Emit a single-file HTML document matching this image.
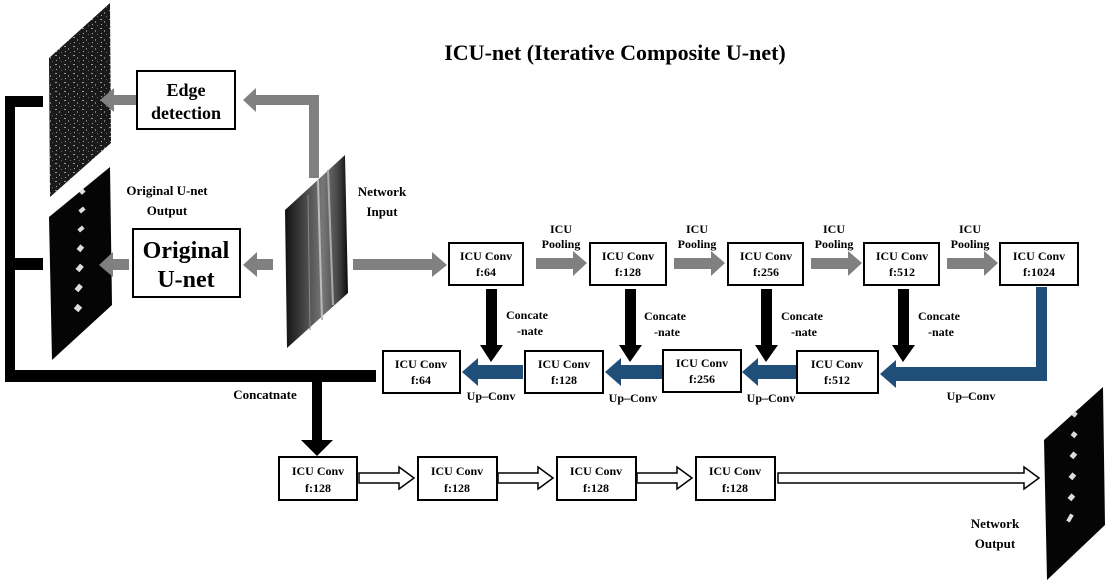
<!DOCTYPE html>
<html><head><meta charset="utf-8"><style>
html,body{margin:0;padding:0;background:#fff;}
svg{display:block;}
text{font-family:"Liberation Serif",serif;font-weight:bold;fill:#000;}
</style></head><body>
<svg width="1113" height="584" viewBox="0 0 1113 584" xmlns="http://www.w3.org/2000/svg">
<defs>
<linearGradient id="mri" x1="0" y1="0" x2="1" y2="0">
<stop offset="0" stop-color="#111"/><stop offset="0.4" stop-color="#555"/><stop offset="0.6" stop-color="#777"/><stop offset="0.85" stop-color="#444"/><stop offset="1" stop-color="#0a0a0a"/></linearGradient>
<pattern id="noise" width="9" height="9" patternUnits="userSpaceOnUse"><rect width="9" height="9" fill="#1a1a1a"/><rect x="1" y="1" width="2" height="1" fill="#999"/><rect x="5" y="3" width="1" height="2" fill="#777"/><rect x="2" y="6" width="1" height="1" fill="#aaa"/><rect x="7" y="7" width="1" height="1" fill="#666"/></pattern>
</defs>
<text x="615" y="60" font-size="22" text-anchor="middle">ICU-net (Iterative Composite U-net)</text>

<polygon points="49,58 110,3 111,143 50,197" fill="url(#noise)"/>
<polygon points="49,217 110,167 112,305 52,360" fill="#050505"/>
<g fill="#ddd">
<rect x="80" y="190" width="5" height="4" transform="rotate(-40 82 192)"/>
<rect x="79" y="208" width="6" height="4" transform="rotate(-40 82 210)"/>
<rect x="78" y="227" width="6" height="4" transform="rotate(-40 81 229)"/>
<rect x="77" y="246" width="6" height="5" transform="rotate(-50 80 248)"/>
<rect x="76" y="266" width="7" height="5" transform="rotate(-50 79 268)"/>
<rect x="75" y="286" width="7" height="5" transform="rotate(-50 78 288)"/>
<rect x="75" y="305" width="6" height="6" transform="rotate(-50 78 308)"/>
</g>
<polygon points="285,210 345,155 348,293 287,348" fill="url(#mri)"/>
<line x1="318" y1="180" x2="322" y2="320" stroke="#bbb" stroke-width="2"/>
<line x1="328" y1="170" x2="333" y2="305" stroke="#aaa" stroke-width="2"/>
<line x1="308" y1="195" x2="310" y2="330" stroke="#888" stroke-width="1"/>
<polygon points="1044,440 1103,387 1105,525 1047,580" fill="#050505"/>
<g fill="#ddd">
<rect x="1073" y="412" width="4" height="5" transform="rotate(40 1075 414)"/>
<rect x="1072" y="432" width="5" height="5" transform="rotate(40 1074 434)"/>
<rect x="1071" y="452" width="5" height="6" transform="rotate(40 1073 455)"/>
<rect x="1070" y="473" width="5" height="6" transform="rotate(40 1072 476)"/>
<rect x="1069" y="494" width="5" height="6" transform="rotate(40 1071 497)"/>
<rect x="1068" y="514" width="4" height="8" transform="rotate(30 1070 518)"/>
</g>

<g fill="#808080">
<rect x="309" y="95" width="10" height="83"/>
<rect x="255" y="95" width="64" height="10"/>
<polygon points="256,88 256,112 243,100"/>
<rect x="113" y="95" width="23" height="10"/>
<polygon points="114,88 114,112 100,100"/>
<rect x="256" y="259" width="17" height="11"/>
<polygon points="257,252 257,277 243,265"/>
<rect x="112" y="259" width="17" height="11"/>
<polygon points="113,252 113,277 99,265"/>
<rect x="353" y="259" width="80" height="11"/>
<polygon points="432,252 432,277 447,265"/>
<rect x="536" y="258" width="38" height="11"/><polygon points="573,251 573,276 587,263"/>
<rect x="674" y="258" width="38" height="11"/><polygon points="711,251 711,276 725,263"/>
<rect x="811" y="258" width="38" height="11"/><polygon points="848,251 848,276 862,263"/>
<rect x="947" y="258" width="38" height="11"/><polygon points="984,251 984,276 998,263"/>
</g>

<g fill="#000">
<rect x="5" y="96" width="10" height="286"/>
<rect x="5" y="96" width="38" height="11"/>
<rect x="5" y="258" width="38" height="12"/>
<rect x="5" y="370" width="371" height="12"/>
<rect x="312" y="376" width="10" height="67"/>
<polygon points="301,440 333,440 317,456"/>
<rect x="486" y="289" width="11" height="58"/><polygon points="480,345 503,345 491,362"/>
<rect x="625" y="289" width="11" height="58"/><polygon points="619,345 642,345 630,362"/>
<rect x="761" y="289" width="11" height="58"/><polygon points="755,345 778,345 766,362"/>
<rect x="898" y="289" width="11" height="58"/><polygon points="892,345 915,345 903,362"/>
</g>

<g fill="#1f4e79">
<rect x="476" y="365" width="47" height="14"/><polygon points="478,358 478,386 462,372"/>
<rect x="619" y="365" width="44" height="14"/><polygon points="621,358 621,386 605,372"/>
<rect x="756" y="365" width="41" height="14"/><polygon points="758,358 758,386 742,372"/>
<rect x="1036" y="287" width="11" height="94"/>
<rect x="894" y="367" width="153" height="14"/><polygon points="896,360 896,388 880,374"/>
</g>

<g fill="#fff" stroke="#000" stroke-width="1.5">
<polygon points="359,473 399,473 399,467 414,478 399,489 399,483 359,483"/>
<polygon points="498,473 538,473 538,467 553,478 538,489 538,483 498,483"/>
<polygon points="637,473 677,473 677,467 692,478 677,489 677,483 637,483"/>
<polygon points="778,473 1024,473 1024,467 1039,478 1024,489 1024,483 778,483"/>
</g>

<g fill="#fff" stroke="#000" stroke-width="2">
<rect x="137" y="71" width="98" height="58"/>
<rect x="133" y="229" width="107" height="68"/>
<rect x="449" y="243" width="74" height="42"/>
<rect x="590" y="243" width="76" height="42"/>
<rect x="728" y="243" width="75" height="42"/>
<rect x="864" y="243" width="75" height="42"/>
<rect x="1000" y="243" width="78" height="42"/>
<rect x="383" y="351" width="77" height="42"/>
<rect x="525" y="351" width="78" height="42"/>
<rect x="663" y="350" width="78" height="42"/>
<rect x="797" y="351" width="81" height="42"/>
<rect x="279" y="457" width="78" height="43"/>
<rect x="418" y="457" width="79" height="43"/>
<rect x="557" y="457" width="79" height="43"/>
<rect x="696" y="457" width="79" height="43"/>
</g>

<g font-size="18" text-anchor="middle">
<text x="186" y="96">Edge</text><text x="186" y="119">detection</text>
</g>
<g font-size="24" text-anchor="middle">
<text x="186" y="258">Original</text><text x="186" y="287">U-net</text>
</g>
<g font-size="13" text-anchor="middle">
<text x="167" y="195">Original  U-net</text><text x="167" y="215">Output</text>
<text x="382" y="196">Network</text><text x="382" y="216">Input</text>
<text x="995" y="528">Network</text><text x="995" y="548">Output</text>
<text x="265" y="399">Concatnate</text>
</g>
<g font-size="12" text-anchor="middle">
<text x="486" y="260">ICU  Conv</text><text x="486" y="276">f:64</text>
<text x="628" y="260">ICU  Conv</text><text x="628" y="276">f:128</text>
<text x="766" y="260">ICU  Conv</text><text x="766" y="276">f:256</text>
<text x="902" y="260">ICU  Conv</text><text x="902" y="276">f:512</text>
<text x="1039" y="260">ICU  Conv</text><text x="1039" y="276">f:1024</text>
<text x="421" y="368">ICU  Conv</text><text x="421" y="384">f:64</text>
<text x="564" y="368">ICU  Conv</text><text x="564" y="384">f:128</text>
<text x="702" y="367">ICU  Conv</text><text x="702" y="383">f:256</text>
<text x="837" y="368">ICU  Conv</text><text x="837" y="384">f:512</text>
<text x="318" y="475">ICU  Conv</text><text x="318" y="492">f:128</text>
<text x="457" y="475">ICU  Conv</text><text x="457" y="492">f:128</text>
<text x="596" y="475">ICU  Conv</text><text x="596" y="492">f:128</text>
<text x="735" y="475">ICU  Conv</text><text x="735" y="492">f:128</text>
<text x="561" y="233">ICU</text><text x="561" y="248">Pooling</text>
<text x="697" y="233">ICU</text><text x="697" y="248">Pooling</text>
<text x="834" y="233">ICU</text><text x="834" y="248">Pooling</text>
<text x="970" y="233">ICU</text><text x="970" y="248">Pooling</text>
<text x="527" y="319">Concate</text><text x="530" y="335">-nate</text>
<text x="665" y="320">Concate</text><text x="667" y="336">-nate</text>
<text x="802" y="320">Concate</text><text x="804" y="336">-nate</text>
<text x="939" y="320">Concate</text><text x="941" y="336">-nate</text>
<text x="491" y="400">Up–Conv</text>
<text x="633" y="402">Up–Conv</text>
<text x="771" y="402">Up–Conv</text>
<text x="971" y="400">Up–Conv</text>
</g>
</svg>
</body></html>
